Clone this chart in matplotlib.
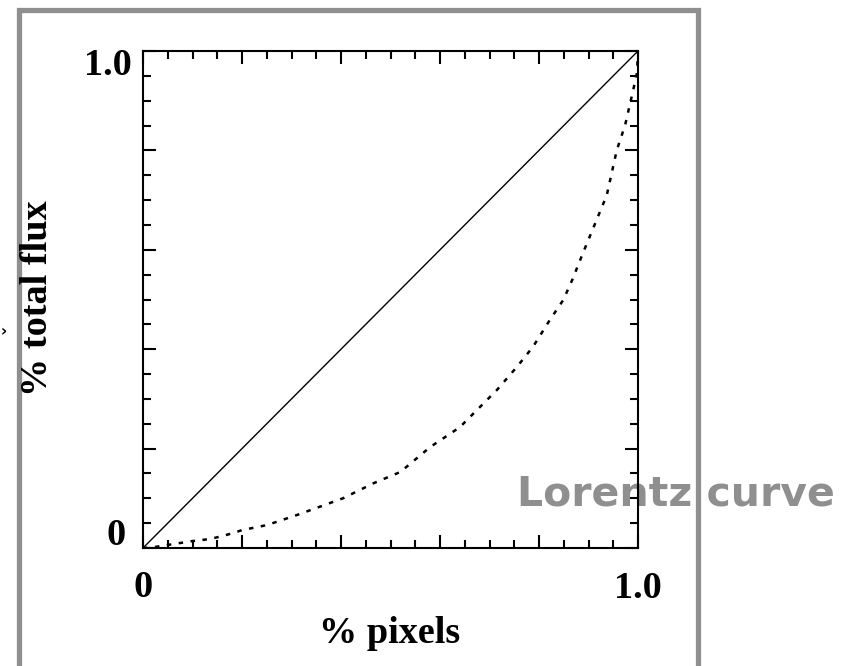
import matplotlib.pyplot as plt
from matplotlib.patches import Rectangle
from matplotlib.ticker import MultipleLocator

# Lorentz curve
frac_pixels = [0.0, 0.024, 0.1, 0.135, 0.16, 0.182, 0.2, 0.25, 0.31, 0.357, 0.404,
               0.465, 0.52, 0.58, 0.64, 0.715, 0.755, 0.788, 0.822, 0.849, 0.867,
               0.889, 0.937, 0.957, 0.974, 0.99, 0.998, 1.0]
frac_flux = [0.0, 0.002, 0.014, 0.018, 0.024, 0.03, 0.036, 0.046, 0.066, 0.083, 0.1,
             0.13, 0.153, 0.203, 0.243, 0.318, 0.364, 0.405, 0.459, 0.499, 0.539,
             0.594, 0.71, 0.80, 0.851, 0.92, 0.956, 1.0]
equality = [0.0, 1.0]

xtick_text = ['0', '1.0']
ytick_text = ['0', '1.0']

W, H = 852, 666
serif = 'Liberation Serif'
gray = '#8f8f8f'

fig = plt.figure(figsize=(W / 100, H / 100), dpi=100)

# gray frame round the figure (bottom edge runs off the picture)
fig.patches.append(Rectangle((18.5 / W, -0.1), (697.5 - 18.5) / W, 1.1 - 10.5 / H,
                             transform=fig.transFigure, fill=False,
                             edgecolor=gray, linewidth=3.8, zorder=0))

fig.text(835 / W, 1 - 505 / H, 'Lorentz curve', ha='right', va='baseline',
         fontsize=29.5, fontweight='bold', color=gray, family='DejaVu Sans', zorder=0.5)

ax = fig.add_axes([143 / W, 118 / H, 495 / W, 497 / H], zorder=1)
ax.set_facecolor('none')

ax.plot(equality, equality, color='black', lw=1.0)
ax.plot(frac_pixels, frac_flux, color='black', lw=1.8, linestyle=(0, (1.8, 3)))

ax.set_xlim(0, 1)
ax.set_ylim(0, 1)
for s in ax.spines.values():
    s.set_linewidth(1.5)
ax.xaxis.set_major_locator(MultipleLocator(0.2))
ax.xaxis.set_minor_locator(MultipleLocator(0.05))
ax.yaxis.set_major_locator(MultipleLocator(0.2))
ax.yaxis.set_minor_locator(MultipleLocator(0.05))
ax.tick_params(which='both', direction='in', top=True, right=True,
               labelbottom=False, labelleft=False, width=1.5)
ax.tick_params(which='major', length=9.5)
ax.tick_params(which='minor', length=6)

lab = dict(fontsize=27.5, fontweight='bold', family=serif, color='black')
ax.text(0.0, -0.099, xtick_text[0], transform=ax.transAxes, ha='center', va='baseline', **lab)
ax.text(1.0, -0.101, xtick_text[1], transform=ax.transAxes, ha='center', va='baseline', **lab)
ax.text(-0.036, 0.006, ytick_text[0], transform=ax.transAxes, ha='right', va='baseline', **lab)
ax.text(-0.022, 0.952, ytick_text[1], transform=ax.transAxes, ha='right', va='baseline', **lab)

fig.text(390 / W, 1 - 643 / H, '% pixels', ha='center', va='baseline', **lab)
fig.text(38 / W, 1 - 298 / H, '% total flux', ha='center', va='center',
         rotation=90, **lab)

# little chevron at the left edge
fig.text(1 / W, 1 - 332 / H, '›', ha='left', va='center', fontsize=11,
         fontweight='bold', color='black', family='DejaVu Sans')

fig.savefig('out.png', dpi=100)
